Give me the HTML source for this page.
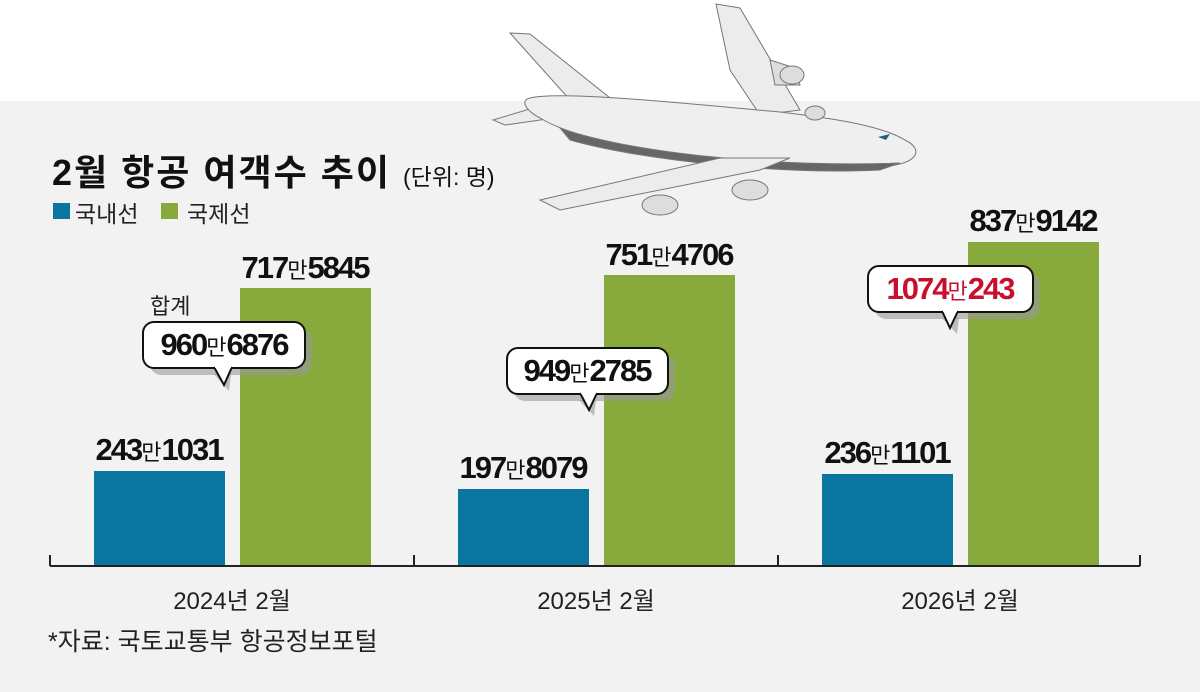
<!DOCTYPE html>
<html><head><meta charset="utf-8"><style>
body{margin:0;width:1200px;height:692px;overflow:hidden;background:#fff;position:relative;font-family:"Liberation Sans","Noto Sans CJK KR",sans-serif;}
.bg{position:absolute;left:0;top:101px;width:1200px;height:591px;background:#f2f2f2;}
.a{position:absolute;}
.bar{position:absolute;}
.v{position:absolute;font-weight:bold;font-size:31px;letter-spacing:-2px;color:#111;white-space:nowrap;text-align:center;width:200px;line-height:32px;}
.v span{font-weight:normal;font-size:22px;letter-spacing:0;}
</style></head><body>
<div class="bg"></div>
<div class="a" style="left:52px;top:144px;font-size:36px;font-weight:bold;color:#111;white-space:nowrap;letter-spacing:2px">2월 항공 여객수 추이 <span style="font-size:23px;font-weight:normal;letter-spacing:0">(단위: 명)</span></div>
<div class="a" style="left:53px;top:203px;width:17px;height:16px;background:#0a76a0"></div>
<div class="a" style="left:75px;top:195px;font-size:23px;color:#222">국내선</div>
<div class="a" style="left:161px;top:203px;width:17px;height:16px;background:#88a93c"></div>
<div class="a" style="left:187px;top:195px;font-size:23px;color:#222">국제선</div>

<div class="bar" style="left:94px;top:471px;width:131px;height:95px;background:#0a76a0"></div>
<div class="bar" style="left:240px;top:288px;width:131px;height:278px;background:#88a93c"></div>
<div class="bar" style="left:458px;top:489px;width:131px;height:77px;background:#0a76a0"></div>
<div class="bar" style="left:604px;top:275px;width:131px;height:291px;background:#88a93c"></div>
<div class="bar" style="left:822px;top:474px;width:131px;height:92px;background:#0a76a0"></div>
<div class="bar" style="left:968px;top:242px;width:131px;height:324px;background:#88a93c"></div>

<svg class="a" style="left:0;top:0" width="1200" height="692">
<g stroke="#222" stroke-width="2" fill="none">
<line x1="50" y1="566" x2="1140" y2="566"/>
<line x1="50" y1="555" x2="50" y2="566"/>
<line x1="414" y1="555" x2="414" y2="566"/>
<line x1="778" y1="555" x2="778" y2="566"/>
<line x1="1140" y1="555" x2="1140" y2="566"/>
</g>
<g>
<rect x="150" y="329" width="162" height="46" rx="11" fill="#999" opacity=".6"/>
<path d="M214,374 L231,374 L229,391 Z" fill="#999" opacity=".6"/>
<rect x="143" y="322" width="162" height="46" rx="11" fill="#fff" stroke="#111" stroke-width="2"/>
<path d="M214,367 L224,385 L232,367" fill="#fff" stroke="#111" stroke-width="2"/>
<rect x="215" y="364" width="16" height="4" fill="#fff"/>

<rect x="514" y="355" width="161" height="46" rx="11" fill="#999" opacity=".6"/>
<path d="M579,400 L596,400 L594,416 Z" fill="#999" opacity=".6"/>
<rect x="507" y="348" width="161" height="46" rx="11" fill="#fff" stroke="#111" stroke-width="2"/>
<path d="M580,393 L589,410 L597,393" fill="#fff" stroke="#111" stroke-width="2"/>
<rect x="581" y="390" width="15" height="4" fill="#fff"/>

<rect x="875" y="273" width="165" height="46" rx="11" fill="#999" opacity=".6"/>
<path d="M942,318 L959,318 L957,334 Z" fill="#999" opacity=".6"/>
<rect x="868" y="266" width="165" height="46" rx="11" fill="#fff" stroke="#111" stroke-width="2"/>
<path d="M942,311 L950,328 L958,311" fill="#fff" stroke="#111" stroke-width="2"/>
<rect x="943" y="308" width="14" height="4" fill="#fff"/>
</g>
<g stroke="#777" stroke-width="1">
<path d="M716,4 L740,8 L800,110 L760,115 L730,70 Z" fill="#ececec"/>
<path d="M770,60 L795,68 L800,85 L775,85 Z" fill="#ddd"/>
<path d="M510,33 L530,34 L610,98 L570,100 Z" fill="#ececec"/>
<path d="M493,120 L560,100 L575,115 L505,125 Z" fill="#ececec"/>
<path d="M530,98 C560,90 700,105 780,112 C830,118 880,125 905,140 C925,150 915,162 895,165 C820,170 720,160 650,150 C600,143 560,130 540,118 C525,110 520,100 530,98 Z" fill="#efefef"/>
<path d="M560,128 C620,150 760,168 900,163 L880,170 C780,175 640,160 570,140 Z" fill="#666"/>
<path d="M540,200 L720,158 L790,158 L760,170 L560,210 Z" fill="#ececec"/>
<ellipse cx="660" cy="205" rx="18" ry="10" fill="#ddd"/>
<ellipse cx="750" cy="190" rx="18" ry="10" fill="#ddd"/>
<ellipse cx="792" cy="75" rx="12" ry="9" fill="#ddd"/>
<ellipse cx="815" cy="113" rx="10" ry="7" fill="#ddd"/>
</g>
<path d="M878,137 L890,134 L886,140 Z" fill="#1f5f8a"/>
</svg>

<div class="v" style="left:59px;top:434px">243<span>만</span>1031</div>
<div class="v" style="left:205px;top:252px">717<span>만</span>5845</div>
<div class="v" style="left:423px;top:452px">197<span>만</span>8079</div>
<div class="v" style="left:569px;top:239px">751<span>만</span>4706</div>
<div class="v" style="left:787px;top:437px">236<span>만</span>1101</div>
<div class="v" style="left:933px;top:205px">837<span>만</span>9142</div>

<div class="a" style="left:150px;top:289px;font-size:22px;color:#222">합계</div>
<div class="v" style="left:124px;top:329px">960<span>만</span>6876</div>
<div class="v" style="left:487px;top:355px">949<span>만</span>2785</div>
<div class="v" style="left:850px;top:273px;color:#c8102e">1074<span>만</span>243</div>

<div class="a" style="left:129px;top:581px;width:206px;text-align:center;font-size:24px;color:#222">2024년 2월</div>
<div class="a" style="left:493px;top:581px;width:206px;text-align:center;font-size:24px;color:#222">2025년 2월</div>
<div class="a" style="left:857px;top:581px;width:206px;text-align:center;font-size:24px;color:#222">2026년 2월</div>
<div class="a" style="left:48px;top:622px;font-size:25px;color:#222">*자료: 국토교통부 항공정보포털</div>
</body></html>
